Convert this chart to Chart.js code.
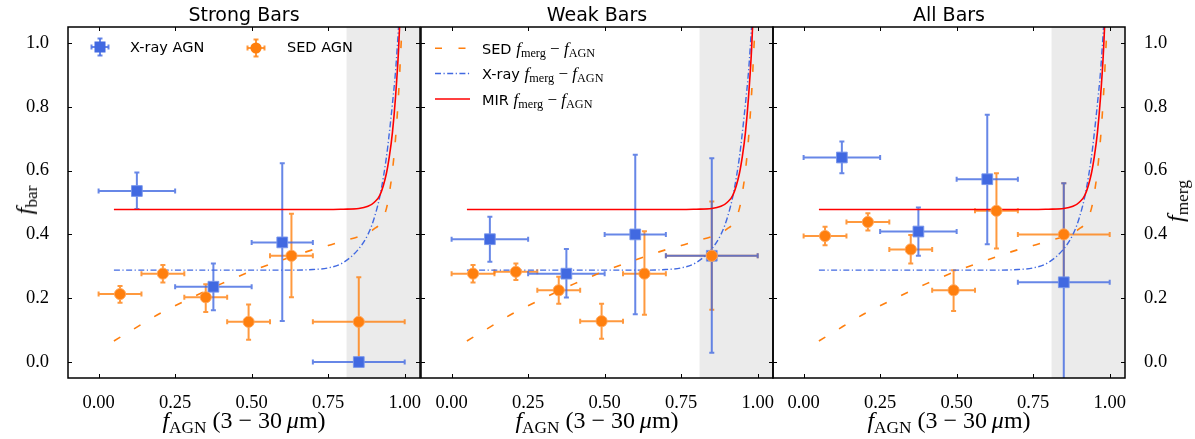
<!DOCTYPE html>
<html>
<head>
<meta charset="utf-8">
<script src="https://cdn.jsdelivr.net/npm/chart.js@4.4.1/dist/chart.umd.min.js"></script>
<style>
  html, body { margin: 0; padding: 0; background: #fff; }
  #fig { position: relative; width: 1195px; height: 439px; overflow: hidden; }
  #fig canvas { position: absolute; left: 0; top: 0; }
  .txt { position: absolute; white-space: nowrap; line-height: 1; color: #000; }
  .title { font-family: "DejaVu Sans", sans-serif; font-size: 19px; top: 5px; transform: translateX(-50%); }
  .math { font-family: "Liberation Serif", serif; font-size: 24px; }
  .math sub, .lmath sub { font-size: 0.72em; vertical-align: -0.28em; line-height: 0; font-style: normal; }
  .xlab { top: 408px; transform: translateX(-50%); }
  .ylab { transform: translate(-50%, -50%) rotate(-90deg); }
  .leg { font-family: "DejaVu Sans", sans-serif; font-size: 14.5px; }
  .lmath { font-family: "Liberation Serif", serif; font-size: 17px; }
  svg.mk { position: absolute; overflow: visible; }
</style>
</head>
<body>
<div id="fig">
  <canvas id="strongChart" width="1195" height="439"></canvas>
  <canvas id="weakChart" width="1195" height="439"></canvas>
  <canvas id="allChart" width="1195" height="439"></canvas>

  <div class="txt title" style="left:244px">Strong Bars</div>
  <div class="txt title" style="left:597px">Weak Bars</div>
  <div class="txt title" style="left:949px">All Bars</div>

  <div class="txt math xlab" style="left:244px"><i>f</i><sub>AGN</sub> (3 − 30&thinsp;<i>μ</i>m)</div>
  <div class="txt math xlab" style="left:597px"><i>f</i><sub>AGN</sub> (3 − 30&thinsp;<i>μ</i>m)</div>
  <div class="txt math xlab" style="left:949px"><i>f</i><sub>AGN</sub> (3 − 30&thinsp;<i>μ</i>m)</div>

  <div class="txt math ylab" style="left:24px;top:200px"><i>f</i><sub>bar</sub></div>
  <div class="txt math ylab" style="left:1175px;top:201px"><i>f</i><sub>merg</sub></div>

  <!-- legend, Strong Bars panel -->
  <svg class="mk" style="left:90px;top:37px" width="20" height="20">
    <g stroke="rgba(65,105,225,0.8)" stroke-width="2">
      <line x1="1.5" y1="10" x2="18.5" y2="10"/><line x1="10" y1="1.5" x2="10" y2="18.5"/>
      <line x1="1.5" y1="7.5" x2="1.5" y2="12.5"/><line x1="18.5" y1="7.5" x2="18.5" y2="12.5"/>
      <line x1="7.5" y1="1.5" x2="12.5" y2="1.5"/><line x1="7.5" y1="18.5" x2="12.5" y2="18.5"/>
    </g>
    <rect x="4.5" y="4.5" width="11" height="11" fill="#4169e1"/>
  </svg>
  <div class="txt leg" style="left:130px;top:40px">X-ray AGN</div>
  <svg class="mk" style="left:246px;top:37.5px" width="20" height="20">
    <g stroke="rgba(255,127,14,0.8)" stroke-width="2">
      <line x1="1.5" y1="10" x2="18.5" y2="10"/><line x1="10" y1="1.5" x2="10" y2="18.5"/>
      <line x1="1.5" y1="7.5" x2="1.5" y2="12.5"/><line x1="18.5" y1="7.5" x2="18.5" y2="12.5"/>
      <line x1="7.5" y1="1.5" x2="12.5" y2="1.5"/><line x1="7.5" y1="18.5" x2="12.5" y2="18.5"/>
    </g>
    <circle cx="10" cy="10" r="5.6" fill="#ff7f0e"/>
  </svg>
  <div class="txt leg" style="left:287px;top:40px">SED AGN</div>

  <!-- legend, Weak Bars panel -->
  <svg class="mk" style="left:435px;top:40px" width="36" height="70">
    <line x1="0" y1="8.3" x2="35" y2="8.3" stroke="#ff7f0e" stroke-width="1.6" stroke-dasharray="7 16.5"/>
    <line x1="0" y1="33.5" x2="35" y2="33.5" stroke="#4169e1" stroke-width="1.4" stroke-dasharray="6 2.5 1.2 2.5"/>
    <line x1="0" y1="59" x2="35" y2="59" stroke="#ff0000" stroke-width="1.6"/>
  </svg>
  <div class="txt leg" style="left:482px;top:40px">SED <span class="lmath"><i>f</i><sub>merg</sub> − <i>f</i><sub>AGN</sub></span></div>
  <div class="txt leg" style="left:482px;top:65.3px">X-ray <span class="lmath"><i>f</i><sub>merg</sub> − <i>f</i><sub>AGN</sub></span></div>
  <div class="txt leg" style="left:482px;top:90.6px">MIR <span class="lmath"><i>f</i><sub>merg</sub> − <i>f</i><sub>AGN</sub></span></div>
</div>

<script>
/* ------------------------------------------------------------------
   DATA
   ------------------------------------------------------------------ */
// axis ticks
var xTicks = [0, 0.25, 0.5, 0.75, 1.0];
var yTicks = [0, 0.2, 0.4, 0.6, 0.8, 1.0];
var shadeStart = 0.81;   // grey band, f_AGN > 0.81

// bin centres and bin edges (same in every panel)
var xrayX   = [0.125, 0.375, 0.60, 0.85];
var xrayXLo = [0.00, 0.25, 0.50, 0.70];
var xrayXHi = [0.25, 0.50, 0.70, 1.00];
var sedX    = [0.07, 0.21, 0.35, 0.49, 0.63, 0.85];
var sedXLo  = [0.00, 0.14, 0.28, 0.42, 0.56, 0.70];
var sedXHi  = [0.14, 0.28, 0.42, 0.56, 0.70, 1.00];

// Strong bars
var strongXrayY   = [0.536, 0.236, 0.375, 0.000];
var strongXrayYLo = [0.480, 0.162, 0.129, 0.000];
var strongXrayYHi = [0.594, 0.309, 0.623, 0.000];
var strongSedY    = [0.213, 0.277, 0.203, 0.126, 0.333, 0.126];
var strongSedYLo  = [0.186, 0.249, 0.157, 0.070, 0.203, 0.000];
var strongSedYHi  = [0.238, 0.304, 0.244, 0.180, 0.465, 0.266];

// Weak bars
var weakXrayY   = [0.385, 0.277, 0.400, 0.333];
var weakXrayYLo = [0.314, 0.202, 0.150, 0.029];
var weakXrayYHi = [0.455, 0.354, 0.650, 0.639];
var weakSedY    = [0.277, 0.283, 0.225, 0.128, 0.277, 0.333];
var weakSedYLo  = [0.249, 0.257, 0.183, 0.073, 0.148, 0.164];
var weakSedYHi  = [0.304, 0.309, 0.267, 0.183, 0.410, 0.503];

// All bars
var allXrayY   = [0.641, 0.409, 0.573, 0.250];
var allXrayYLo = [0.592, 0.333, 0.369, -0.200];
var allXrayYHi = [0.691, 0.484, 0.775, 0.560];
var allSedY    = [0.395, 0.439, 0.353, 0.225, 0.474, 0.400];
var allSedYLo  = [0.366, 0.412, 0.309, 0.160, 0.356, 0.240];
var allSedYHi  = [0.424, 0.466, 0.398, 0.288, 0.592, 0.560];

// f_merg - f_AGN relations (same curves in all three panels)
var curveX     = [0.05, 0.10, 0.20, 0.30, 0.40, 0.50, 0.60, 0.70, 0.75, 0.80, 0.85, 0.88, 0.90, 0.92, 0.94, 0.95, 0.96, 0.97, 0.98, 0.99];
var sedCurve   = [0.066, 0.095, 0.152, 0.200, 0.245, 0.285, 0.320, 0.352, 0.365, 0.380, 0.393, 0.405, 0.417, 0.435, 0.480, 0.530, 0.600, 0.700, 0.840, 1.030];
var xrayCurve  = [0.288, 0.288, 0.288, 0.288, 0.288, 0.288, 0.288, 0.290, 0.295, 0.312, 0.355, 0.400, 0.450, 0.525, 0.640, 0.720, 0.810, 0.910, 1.050, 1.200];
var mirCurve   = [0.478, 0.478, 0.478, 0.478, 0.478, 0.478, 0.478, 0.478, 0.478, 0.479, 0.481, 0.488, 0.500, 0.525, 0.590, 0.645, 0.720, 0.830, 0.980, 1.200];

/* ------------------------------------------------------------------
   STYLE
   ------------------------------------------------------------------ */
var COLORS = {
  blue:      '#4169e1',
  blueEdge:  'rgba(120,150,235,0.9)',
  blueErr:   'rgba(65,105,225,0.8)',
  orange:    '#ff7f0e',
  orangeEdge:'rgba(255,165,90,0.9)',
  orangeErr: 'rgba(255,127,14,0.8)',
  red:       '#ff0000',
  shade:     '#ebebeb',
};
var TICK_FONT = { family: "'Liberation Serif', serif", size: 18.5 };

function toPoints(xs, ys) {
  return xs.map(function (x, i) { return { x: x, y: ys[i] }; });
}

/* ------------------------------------------------------------------
   PLUGINS — grey band, error bars, inward ticks and frame
   ------------------------------------------------------------------ */
var panelDecor = {
  id: 'panelDecor',
  beforeDatasetsDraw: function (chart) {
    var ctx = chart.ctx, a = chart.chartArea, xs = chart.scales.x, ys = chart.scales.y;
    ctx.save();
    ctx.beginPath();
    ctx.rect(a.left, a.top, a.right - a.left, a.bottom - a.top);
    ctx.clip();

    var x0 = xs.getPixelForValue(shadeStart);
    ctx.fillStyle = COLORS.shade;
    ctx.fillRect(x0, a.top, a.right - x0, a.bottom - a.top);

    // all error bars go below all markers (matplotlib errorbar zorder)
    var cap = 2.5;
    chart.data.datasets.forEach(function (ds) {
      if (!ds.err) return;
      ctx.strokeStyle = ds.errColor;
      ctx.lineWidth = 2;
      ds.data.forEach(function (p, i) {
        var px = xs.getPixelForValue(p.x), py = ys.getPixelForValue(p.y);
        var xl = xs.getPixelForValue(ds.err.xLo[i]), xh = xs.getPixelForValue(ds.err.xHi[i]);
        var yl = ys.getPixelForValue(ds.err.yLo[i]), yh = ys.getPixelForValue(ds.err.yHi[i]);
        ctx.beginPath();
        ctx.moveTo(xl, py); ctx.lineTo(xh, py);
        ctx.moveTo(xl, py - cap); ctx.lineTo(xl, py + cap);
        ctx.moveTo(xh, py - cap); ctx.lineTo(xh, py + cap);
        if (ds.err.yHi[i] > ds.err.yLo[i]) {
          ctx.moveTo(px, yl); ctx.lineTo(px, yh);
          ctx.moveTo(px - cap, yl); ctx.lineTo(px + cap, yl);
          ctx.moveTo(px - cap, yh); ctx.lineTo(px + cap, yh);
        }
        ctx.stroke();
      });
    });
    ctx.restore();
  },
  afterDraw: function (chart) {
    var ctx = chart.ctx, a = chart.chartArea, xs = chart.scales.x, ys = chart.scales.y;
    var len = 4;
    ctx.save();
    ctx.strokeStyle = '#000';
    ctx.lineWidth = 1;
    ctx.beginPath();
    xTicks.forEach(function (v) {
      var px = Math.round(xs.getPixelForValue(v)) + 0.5;
      ctx.moveTo(px, a.bottom); ctx.lineTo(px, a.bottom - len);
      ctx.moveTo(px, a.top); ctx.lineTo(px, a.top + len);
    });
    yTicks.forEach(function (v) {
      var py = Math.round(ys.getPixelForValue(v)) + 0.5;
      ctx.moveTo(a.left, py); ctx.lineTo(a.left + len, py);
      ctx.moveTo(a.right, py); ctx.lineTo(a.right - len, py);
    });
    ctx.stroke();
    ctx.lineWidth = 1.5;
    ctx.strokeRect(a.left, a.top, a.right - a.left, a.bottom - a.top);
    ctx.restore();
  },
};

/* ------------------------------------------------------------------
   PANEL FACTORY
   ------------------------------------------------------------------ */
function makePanel(canvasId, p) {
  var canvas = document.getElementById(canvasId);

  var datasets = [
    {
      label: 'SED AGN',
      data: toPoints(sedX, p.sedY),
      err: { xLo: sedXLo, xHi: sedXHi, yLo: p.sedYLo, yHi: p.sedYHi },
      errColor: COLORS.orangeErr,
      pointStyle: 'circle',
      pointRadius: 5.6,
      backgroundColor: COLORS.orange,
      borderColor: COLORS.orangeEdge,
      borderWidth: 1,
      order: 0,
    },
    {
      label: 'X-ray AGN',
      data: toPoints(xrayX, p.xrayY),
      err: { xLo: xrayXLo, xHi: xrayXHi, yLo: p.xrayYLo, yHi: p.xrayYHi },
      errColor: COLORS.blueErr,
      pointStyle: 'rect',
      pointRadius: 7.6,
      backgroundColor: COLORS.blue,
      borderColor: COLORS.blueEdge,
      borderWidth: 1,
      order: 1,
    },
    {
      label: 'MIR curve',
      data: toPoints(curveX, mirCurve),
      showLine: true, pointRadius: 0,
      borderColor: COLORS.red, borderWidth: 1.6,
      cubicInterpolationMode: 'monotone',
      order: 2,
    },
    {
      label: 'X-ray curve',
      data: toPoints(curveX, xrayCurve),
      showLine: true, pointRadius: 0,
      borderColor: COLORS.blue, borderWidth: 1.4,
      borderDash: [6, 2.5, 1.2, 2.5],
      cubicInterpolationMode: 'monotone',
      order: 3,
    },
    {
      label: 'SED curve',
      data: toPoints(curveX, sedCurve),
      showLine: true, pointRadius: 0,
      borderColor: COLORS.orange, borderWidth: 1.6,
      borderDash: [7.5, 16],
      cubicInterpolationMode: 'monotone',
      order: 4,
    },
  ];

  var scales = {
    x: {
      type: 'linear', min: -0.1, max: 1.05,
      afterBuildTicks: function (s) { s.ticks = xTicks.map(function (v) { return { value: v }; }); },
      ticks: {
        callback: function (v) { return v.toFixed(2); },
        font: TICK_FONT, color: '#000', padding: 6, maxRotation: 0, autoSkip: false,
      },
      grid: { display: false },
      border: { display: false },
      afterFit: function (s) { s.height = 30; },
    },
    y: {
      type: 'linear', min: -0.05, max: 1.05,
      afterBuildTicks: function (s) { s.ticks = yTicks.map(function (v) { return { value: v }; }); },
      ticks: {
        display: p.leftLabels,
        callback: function (v) { return v.toFixed(1); },
        font: TICK_FONT, color: '#000', padding: 11, autoSkip: false,
      },
      grid: { display: false },
      border: { display: false },
      afterFit: function (s) { s.width = p.leftLabels ? 50 : 0; },
    },
  };

  if (p.rightLabels) {
    scales.y2 = {
      type: 'linear', position: 'right', min: -0.05, max: 1.05,
      afterBuildTicks: function (s) { s.ticks = yTicks.map(function (v) { return { value: v }; }); },
      ticks: {
        callback: function (v) { return v.toFixed(1); },
        font: TICK_FONT, color: '#000', padding: 11, autoSkip: false,
      },
      grid: { display: false },
      border: { display: false },
      afterFit: function (s) { s.width = 50; },
    };
  }

  new Chart(canvas, {
    type: 'scatter',
    data: { datasets: datasets },
    options: {
      responsive: false,
      animation: false,
      devicePixelRatio: 1,
      layout: { padding: { left: p.padLeft, right: p.padRight, top: 27, bottom: 31 } },
      plugins: { legend: { display: false }, tooltip: { enabled: false } },
      scales: scales,
    },
    plugins: [panelDecor],
  });
}

makePanel('strongChart', {
  xrayY: strongXrayY, xrayYLo: strongXrayYLo, xrayYHi: strongXrayYHi,
  sedY: strongSedY, sedYLo: strongSedYLo, sedYHi: strongSedYHi,
  leftLabels: true, rightLabels: false, padLeft: 18, padRight: 775,
});
makePanel('weakChart', {
  xrayY: weakXrayY, xrayYLo: weakXrayYLo, xrayYHi: weakXrayYHi,
  sedY: weakSedY, sedYLo: weakSedYLo, sedYHi: weakSedYHi,
  leftLabels: false, rightLabels: false, padLeft: 421, padRight: 422,
});
makePanel('allChart', {
  xrayY: allXrayY, xrayYLo: allXrayYLo, xrayYHi: allXrayYHi,
  sedY: allSedY, sedYLo: allSedYLo, sedYHi: allSedYHi,
  leftLabels: false, rightLabels: true, padLeft: 773, padRight: 20,
});
</script>
</body>
</html>
